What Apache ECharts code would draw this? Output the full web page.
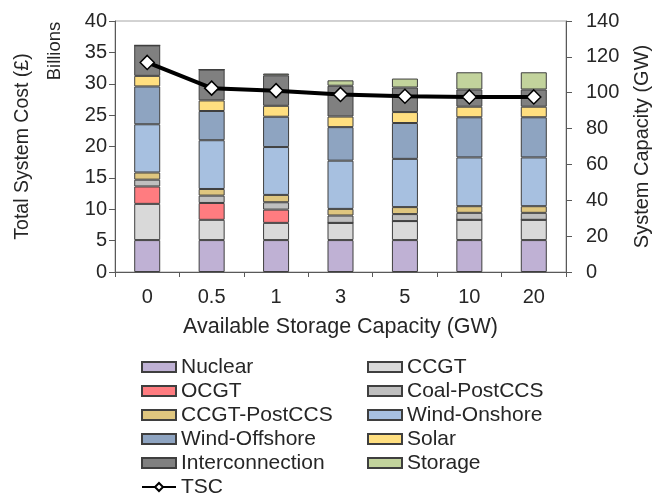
<!DOCTYPE html>
<html>
<head>
<meta charset="utf-8">
<script src="https://cdn.jsdelivr.net/npm/echarts@6/dist/echarts.min.js"></script>
<style>
  html, body { margin: 0; padding: 0; background: #fff; }
  #chart { width: 663px; height: 494px; }
</style>
</head>
<body>
<div id="chart"></div>
<script>
// available storage capacity (GW)
var categories = ['0', '0.5', '1', '3', '5', '10', '20']

// installed capacity by technology (GW)
var nuclear = [17.8, 17.8, 17.8, 17.8, 17.8, 17.8, 17.8]
var ccgt = [20.2, 11.3, 9.6, 9.6, 10.6, 11.3, 11.3]
var ocgt = [9.7, 9.4, 7.4, 0, 0, 0, 0]
var coalPostCCS = [3.8, 4.1, 4.1, 4.1, 3.9, 3.9, 3.9]
var ccgtPostCCS = [4.0, 3.7, 4.1, 3.7, 3.9, 3.7, 3.7]
var windOnshore = [26.9, 27.2, 26.7, 26.9, 26.9, 27.2, 27.2]
var windOffshore = [21.1, 16.3, 16.9, 18.7, 20.0, 22.4, 22.4]
var solar = [5.9, 5.9, 6.1, 5.9, 6.1, 5.9, 5.9]
var interconnection = [17.0, 17.2, 17.0, 17.2, 13.7, 9.6, 9.6]
var storage = [0, 0, 1.0, 3.0, 5.0, 9.6, 9.6]

// total system cost (billions £), left axis
var tsc = [33.4, 29.3, 28.9, 28.3, 28.0, 27.9, 27.9]

var leftTicks = [0, 5, 10, 15, 20, 25, 30, 35, 40]
var rightTicks = [0, 20, 40, 60, 80, 100, 120, 140]

var font = 'Liberation Sans, Arial, sans-serif'
var textColor = '#262626'
var axisColor = '#595959'

function bar(name, data, color) {
  return {
    name: name,
    type: 'bar',
    stack: 'cap',
    yAxisIndex: 1,
    barWidth: 26,
    data: data,
    itemStyle: { color: color, borderColor: '#3f3f3f', borderWidth: 1 },
    emphasis: { disabled: true }
  }
}

function legendItems(names) {
  return names.map(function(n) {
    return n === 'TSC' ? { name: n } : { name: n, icon: 'rect' }
  })
}

var legendText = { fontSize: 21, lineHeight: 24, color: textColor, fontFamily: font }

var chart = echarts.init(document.getElementById('chart'))

chart.setOption({
  animation: false,
  backgroundColor: '#fff',
  textStyle: { fontFamily: font, color: textColor },
  grid: {
    left: 115,
    right: 97,
    top: 21,
    bottom: 222,
    show: true,
    borderColor: '#a6a6a6',
    borderWidth: 1
  },
  legend: [
    {
      orient: 'vertical',
      left: 136,
      top: 350,
      height: 160,
      itemWidth: 34,
      itemHeight: 10,
      itemGap: 0,
      textStyle: legendText,
      data: legendItems(['Nuclear', 'OCGT', 'CCGT-PostCCS', 'Wind-Offshore', 'Interconnection', 'TSC'])
    },
    {
      orient: 'vertical',
      left: 362,
      top: 350,
      height: 160,
      itemWidth: 34,
      itemHeight: 10,
      itemGap: 0,
      textStyle: legendText,
      data: legendItems(['CCGT', 'Coal-PostCCS', 'Wind-Onshore', 'Solar', 'Storage'])
    }
  ],
  graphic: [
    {
      type: 'text',
      x: 55,
      y: 51,
      rotation: Math.PI / 2,
      style: {
        text: 'Billions',
        fontSize: 18.5,
        fontFamily: font,
        fill: textColor,
        align: 'center',
        verticalAlign: 'middle'
      }
    }
  ],
  xAxis: {
    type: 'category',
    data: categories,
    name: 'Available Storage Capacity (GW)',
    nameLocation: 'middle',
    nameGap: 44,
    nameTextStyle: { fontSize: 21.5, color: textColor },
    axisLine: { lineStyle: { color: axisColor } },
    axisTick: { show: true, length: 5, lineStyle: { color: axisColor } },
    axisLabel: { fontSize: 20, color: textColor, margin: 15 },
    splitLine: { show: false }
  },
  yAxis: [
    {
      type: 'value',
      min: leftTicks[0],
      max: leftTicks[leftTicks.length - 1],
      interval: 5,
      name: 'Total System Cost (£)',
      nameLocation: 'middle',
      nameRotate: 90,
      nameGap: 82,
      nameTextStyle: { fontSize: 19.5, color: textColor },
      axisLine: { show: true, lineStyle: { color: axisColor } },
      axisTick: { show: true, length: 6, lineStyle: { color: axisColor } },
      axisLabel: { fontSize: 20, color: textColor, margin: 8 },
      splitLine: { show: false }
    },
    {
      type: 'value',
      position: 'right',
      min: rightTicks[0],
      max: rightTicks[rightTicks.length - 1],
      interval: 20,
      name: 'System Capacity (GW)',
      nameLocation: 'middle',
      nameRotate: 90,
      nameGap: 66,
      nameTextStyle: { fontSize: 20, color: textColor },
      axisLine: { show: true, lineStyle: { color: axisColor } },
      axisTick: { show: true, length: 6, lineStyle: { color: axisColor } },
      axisLabel: { fontSize: 20, color: textColor, margin: 20 },
      splitLine: { show: false }
    }
  ],
  series: [
    bar('Nuclear', nuclear, '#bfb1d4'),
    bar('CCGT', ccgt, '#d9d9d9'),
    bar('OCGT', ocgt, '#ff7c80'),
    bar('Coal-PostCCS', coalPostCCS, '#bfbfbf'),
    bar('CCGT-PostCCS', ccgtPostCCS, '#dfc67f'),
    bar('Wind-Onshore', windOnshore, '#a7c0e0'),
    bar('Wind-Offshore', windOffshore, '#8ea4c1'),
    bar('Solar', solar, '#ffdf80'),
    bar('Interconnection', interconnection, '#808080'),
    bar('Storage', storage, '#c2d39c'),
    {
      name: 'TSC',
      type: 'line',
      yAxisIndex: 0,
      data: tsc,
      symbol: 'diamond',
      symbolSize: 14,
      z: 10,
      lineStyle: { color: '#000', width: 4 },
      itemStyle: { color: '#fff', borderColor: '#000', borderWidth: 1.5 },
      emphasis: { disabled: true }
    }
  ]
})
</script>
</body>
</html>
